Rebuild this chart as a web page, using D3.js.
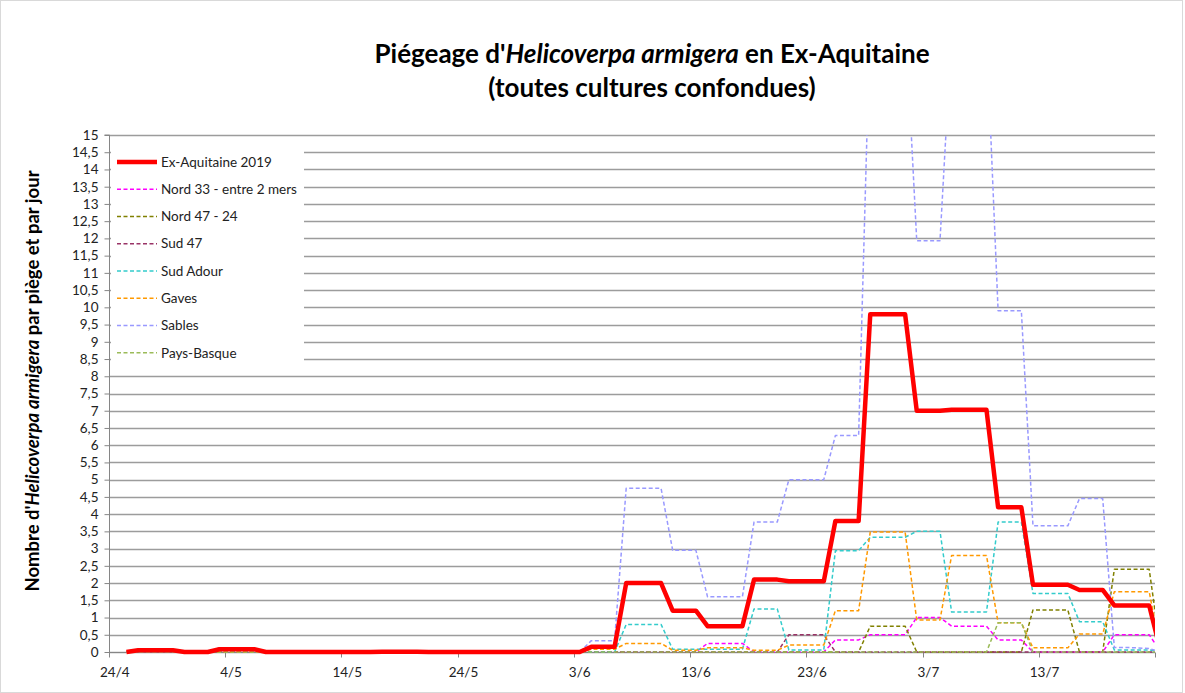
<!DOCTYPE html>
<html><head><meta charset="utf-8">
<script src="https://cdn.jsdelivr.net/npm/d3@7"></script>
<style>
body{margin:0;background:#fff}
svg{display:block}
text{font-family:Lato,"Open Sans","Noto Sans",sans-serif}
</style>
</head><body>
<svg id="chart" width="1185" height="693"></svg>
<script>
// ---------- DATA (one value per day, from 24/4/2019, index 0, to 23/7/2019, index 90) ----------
const firstDay = "2019-04-24";
const lastDay = "2019-07-23";
const xTickLabels = ["24/4","4/5","14/5","24/5","3/6","13/6","23/6","3/7","13/7"];
const yTickValues = [0,0.5,1,1.5,2,2.5,3,3.5,4,4.5,5,5.5,6,6.5,7,7.5,8,8.5,9,9.5,10,10.5,11,11.5,12,12.5,13,13.5,14,14.5,15];
const seriesNames = ["Ex-Aquitaine 2019","Nord 33 - entre 2 mers","Nord 47 - 24","Sud 47","Sud Adour","Gaves","Sables","Pays-Basque"];

const exAquitaine = [
  null,0,0.05,0.05,0.05,0.05,0,0,0,0.08,
  0.08,0.08,0.08,0,0,0,0,0,0,0,
  0,0,0,0.01,0.01,0.01,0.01,0,0,0,
  0,0,0,0,0,0,0,0,0,0,
  0,0.15,0.15,0.15,2.0,2.0,2.0,2.0,1.2,1.2,
  1.2,0.75,0.75,0.75,0.75,2.1,2.1,2.1,2.05,2.05,
  2.05,2.05,3.8,3.8,3.8,9.8,9.8,9.8,9.8,7.0,
  7.0,7.0,7.03,7.03,7.03,7.03,4.2,4.2,4.2,1.95,
  1.95,1.95,1.95,1.8,1.8,1.8,1.35,1.35,1.35,1.35,
  0];
const nord33 = [
  null,0,0,0,0,0,0,0,0,0,
  0,0,0,0,0,0,0,0,0,0,
  0,0,0,0,0,0,0,0,0,0,
  0,0,0,0,0,0,0,0,0,0,
  0,0,0,0,0,0,0,0,0,0,
  0,0.25,0.25,0.25,0.25,0,0,0,0,0,
  0,0,0.35,0.35,0.35,0.5,0.5,0.5,0.5,1.0,
  1.0,1.0,0.75,0.75,0.75,0.75,0.35,0.35,0.35,0,
  0,0,0,0,0,0,0.5,0.5,0.5,0.5,
  0];
const nord47 = [
  null,0,0,0,0,0,0,0,0,0,
  0,0,0,0,0,0,0,0,0,0,
  0,0,0,0,0,0,0,0,0,0,
  0,0,0,0,0,0,0,0,0,0,
  0,0,0,0,0,0,0,0,0,0,
  0,0,0,0,0,0,0,0,0,0,
  0,0,0,0,0,0.75,0.75,0.75,0.75,0,
  0,0,0,0,0,0,0,0,0,1.22,
  1.22,1.22,1.22,0,0,0,2.4,2.4,2.4,2.4,
  0];
const sud47 = [
  null,0,0,0,0,0,0,0,0,0,
  0,0,0,0,0,0,0,0,0,0,
  0,0,0,0,0,0,0,0,0,0,
  0,0,0,0,0,0,0,0,0,0,
  0,0,0,0,0,0,0,0,0,0,
  0,0,0,0,0,0,0,0,0.5,0.5,
  0.5,0.5,0,0,0,0,0,0,0,0,
  0,0,0,0,0,0,0,0,0,0,
  0,0,0,0,0,0,0,0,0,0,
  0];
const sudAdour = [
  null,0,0,0,0,0,0,0,0,0,
  0,0,0,0,0,0,0,0,0,0,
  0,0,0,0,0,0,0,0,0,0,
  0,0,0,0,0,0,0,0,0,0,
  0,0,0,0,0.8,0.8,0.8,0.8,0.08,0.08,
  0.08,0.08,0.08,0.08,0.08,1.25,1.25,1.25,0.06,0.06,
  0.06,0.06,2.94,2.94,2.94,3.33,3.33,3.33,3.33,3.5,
  3.5,3.5,1.16,1.16,1.16,1.16,3.77,3.77,3.77,1.7,
  1.7,1.7,1.7,0.88,0.88,0.88,0.06,0.06,0.06,0.06,
  0];
const gaves = [
  null,0,0.07,0.07,0.07,0.07,0,0,0,0,
  0,0,0,0,0,0,0,0,0,0,
  0,0,0,0.03,0.03,0.03,0.03,0,0,0,
  0,0,0,0,0,0,0,0,0,0,
  0,0.08,0.08,0.08,0.25,0.25,0.25,0.25,0.05,0.05,
  0.05,0.12,0.12,0.12,0.12,0.05,0.05,0.05,0.2,0.2,
  0.2,0.2,1.2,1.2,1.2,3.48,3.48,3.48,3.48,0.93,
  0.93,0.93,2.8,2.8,2.8,2.8,0.85,0.85,0.85,0.12,
  0.12,0.12,0.12,0.52,0.52,0.52,1.75,1.75,1.75,1.75,
  0];
const sables = [
  null,0,0,0,0,0,0,0,0,0.12,
  0.12,0.12,0.12,0,0,0,0,0,0,0,
  0,0,0,0,0,0,0,0,0,0,
  0,0,0,0,0,0,0,0,0,0,
  0,0.33,0.33,0.33,4.75,4.75,4.75,4.75,2.95,2.95,
  2.95,1.6,1.6,1.6,1.6,3.77,3.77,3.77,5.0,5.0,
  5.0,5.0,6.28,6.28,6.28,18.5,18.5,18.5,18.5,11.93,
  11.93,11.93,18.0,18.0,18.0,18.0,9.9,9.9,9.9,3.66,
  3.66,3.66,3.66,4.45,4.45,4.45,0.13,0.13,0.12,0.1,
  0];
const paysBasque = [
  null,0,0,0,0,0,0,0,0,0,
  0,0,0,0,0,0,0,0,0,0,
  0,0,0,0,0,0,0,0,0,0,
  0,0,0,0,0,0,0,0,0,0,
  0,0,0,0,0,0,0,0,0,0,
  0,0,0,0,0,0,0,0,0,0,
  0,0,0,0,0,0,0,0,0,0,
  0,0,0,0,0,0,0.85,0.85,0.85,0,
  0,0,0,0,0,0,0,0,0,0,
  0];

// ---------- STYLE ----------
const seriesValues = [exAquitaine,nord33,nord47,sud47,sudAdour,gaves,sables,paysBasque];
const seriesColors = ["#FF0000","#FF00FF","#808000","#993366","#33CCCC","#FF9900","#9999FF","#9BBB59"];

const W = 1185, H = 693;
const M = {left:109, right:1155, top:135, bottom:652};
const svg = d3.select("#chart");

svg.append("rect").attr("x",0.5).attr("y",0.5).attr("width",W-3).attr("height",H-1)
  .attr("fill","#fff").attr("stroke","#d9d9d9");

const parse = d3.utcParse("%Y-%m-%d");
const t0 = parse(firstDay), t1 = parse(lastDay);
const x = d3.scaleUtc().domain([t0,t1]).range([M.left,M.right]);
const y = d3.scaleLinear().domain([0,15]).range([M.bottom,M.top]);
const dayCenter = i => d3.utcHour.offset(d3.utcDay.offset(t0,i),12);

// gridlines
svg.append("g").selectAll("line").data(yTickValues).join("line")
  .attr("x1",M.left).attr("x2",M.right)
  .attr("y1",d=>Math.round(y(d))+0.5).attr("y2",d=>Math.round(y(d))+0.5)
  .attr("stroke","#9c9c9c").attr("stroke-width",1.6);

// y axis
const yAxis = d3.axisLeft(y).tickValues(yTickValues).tickSize(5).tickPadding(6)
  .tickFormat(d=>String(d).replace(".",","));
const gy = svg.append("g").attr("transform",`translate(${M.left+0.5},0)`).call(yAxis);
gy.select(".domain").attr("stroke","#868686").attr("d",`M-5,${M.top}H0V${M.bottom+4}`);
gy.selectAll(".tick line").attr("stroke","#868686");
gy.selectAll(".tick text").attr("font-size",13.5).attr("fill","#222")
  .attr("font-family","Lato,'Open Sans',sans-serif");

// x axis
const tickDates = xTickLabels.map(s=>{const [d,m]=s.split("/");return parse(`2019-${m.padStart(2,"0")}-${d.padStart(2,"0")}`);}).concat([t1]);
const gx = svg.append("g").attr("transform",`translate(0,${M.bottom+0.5})`);
gx.append("line").attr("x1",M.left).attr("x2",M.right).attr("stroke","#868686");
gx.selectAll("line.tk").data(tickDates).join("line").attr("class","tk")
  .attr("x1",d=>Math.round(x(d))+0.5).attr("x2",d=>Math.round(x(d))+0.5)
  .attr("y1",0).attr("y2",5).attr("stroke","#868686");
gx.selectAll("text").data(xTickLabels).join("text")
  .attr("x",(d,i)=>x(d3.utcHour.offset(tickDates[i],12)))
  .attr("y",24).attr("text-anchor","middle").attr("font-size",13.5).attr("fill","#222")
  .text(d=>d);

// clip
svg.append("clipPath").attr("id","plotclip").append("rect")
  .attr("x",M.left).attr("y",M.top).attr("width",M.right-M.left).attr("height",M.bottom-M.top+6);

const line = d3.line().defined(d=>d.v!=null).x(d=>x(d.t)).y(d=>y(d.v));
const series = seriesNames.map((name,k)=>({
  name, color:seriesColors[k], main:k===0,
  pts: seriesValues[k].map((v,i)=>({t:dayCenter(i), v}))
}));

const gLines = svg.append("g").attr("clip-path","url(#plotclip)");
const drawOrder = series.slice(1).concat([series[0]]);
gLines.selectAll("path").data(drawOrder).join("path")
  .attr("d",d=>line(d.pts)).attr("fill","none")
  .attr("stroke",d=>d.color)
  .attr("stroke-width",d=>d.main?4.5:1.5)
  .attr("stroke-dasharray",d=>d.main?null:"4,2.5")
  .attr("stroke-linejoin","round");

// legend
const lg = svg.append("g");
lg.append("rect").attr("x",111).attr("y",139).attr("width",193).attr("height",227).attr("fill","#fff");
const legY = d3.scaleLinear().domain([0,7]).range([162,352.8]);
const items = lg.selectAll("g").data(series).join("g")
  .attr("transform",(d,i)=>`translate(0,${legY(i)})`);
items.append("line").attr("x1",117).attr("x2",157)
  .attr("stroke",d=>d.color).attr("stroke-width",d=>d.main?4.5:1.5)
  .attr("stroke-dasharray",d=>d.main?null:"4,2.5");
items.append("text").attr("x",161).attr("y",4.7).attr("font-size",13.5).attr("fill","#222")
  .text(d=>d.name);

// title
const title = svg.append("text").attr("x",652).attr("y",63).attr("text-anchor","middle")
  .attr("font-size",26).attr("font-weight","bold").attr("fill","#000");
title.append("tspan").text("Piégeage d'");
title.append("tspan").attr("font-style","italic").text("Helicoverpa armigera");
title.append("tspan").text(" en Ex-Aquitaine");
svg.append("text").attr("x",652).attr("y",97).attr("text-anchor","middle")
  .attr("font-size",26).attr("font-weight","bold").attr("fill","#000")
  .text("(toutes cultures confondues)");

// y label
const yl = svg.append("text").attr("transform","translate(39,381) rotate(-90)")
  .attr("text-anchor","middle").attr("font-size",18.5).attr("font-weight","bold").attr("fill","#000");
yl.append("tspan").text("Nombre d'");
yl.append("tspan").attr("font-style","italic").text("Helicoverpa armigera");
yl.append("tspan").text(" par piège et par jour");
</script>
</body></html>
